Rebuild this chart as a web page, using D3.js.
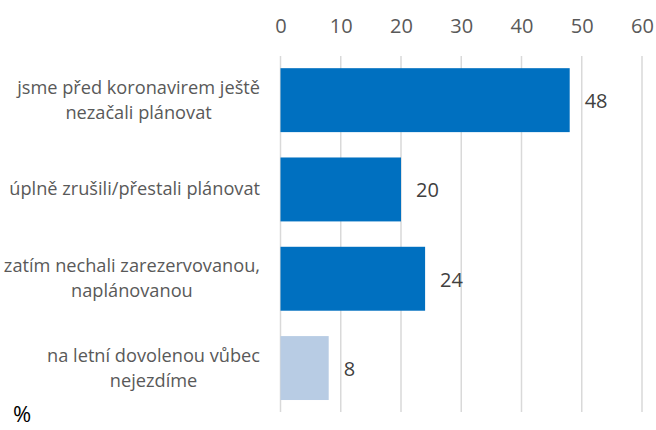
<!DOCTYPE html>
<html>
<head>
<meta charset="utf-8">
<script src="https://cdn.jsdelivr.net/npm/d3@7"></script>
<style>
  body { margin: 0; background: #fff; }
  svg { display: block; font-family: "Open Sans", sans-serif; }
</style>
</head>
<body>
<svg id="chart" width="656" height="430"></svg>
<script>
const categories = [
    ["jsme před koronavirem ještě", "nezačali plánovat"],
    ["úplně zrušili/přestali plánovat"],
    ["zatím nechali zarezervovanou,", "naplánovanou"],
    ["na letní dovolenou vůbec", "nejezdíme"]
];
const values = [48, 20, 24, 8];
const highlight = [true, true, true, false];
const ticks = [0, 10, 20, 30, 40, 50, 60];

const svg = d3.select("#chart");
const x = d3.scaleLinear().domain([0, 60]).range([280.5, 642]);
const y = d3.scaleBand()
    .domain(d3.range(values.length))
    .range([55.5, 412.7])
    .paddingInner(0.284)
    .paddingOuter(0.142);

// gridlines
svg.append("g")
    .selectAll("line")
    .data(ticks)
    .join("line")
    .attr("x1", d => x(d)).attr("x2", d => x(d))
    .attr("y1", 56).attr("y2", 412)
    .attr("stroke", "#d9d9d9")
    .attr("stroke-width", 1.5);

// top axis labels
const axis = d3.axisTop(x).tickValues(ticks).tickSize(0).tickPadding(0);
const ga = svg.append("g").attr("transform", "translate(0,33)").call(axis);
ga.select(".domain").remove();
ga.selectAll("text")
    .attr("font-family", "Open Sans")
    .attr("font-size", 20)
    .attr("fill", "#595959")
    .attr("dy", 0);

// bars
svg.append("g")
    .selectAll("rect")
    .data(values)
    .join("rect")
    .attr("x", x(0))
    .attr("y", (d, i) => y(i))
    .attr("width", d => x(d) - x(0))
    .attr("height", y.bandwidth())
    .attr("fill", (d, i) => highlight[i] ? "#0070c0" : "#b8cce4");

// value labels
svg.append("g")
    .selectAll("text")
    .data(values)
    .join("text")
    .attr("x", d => x(d) + 15)
    .attr("y", (d, i) => y(i) + y.bandwidth() / 2 + 8)
    .attr("font-size", 20)
    .attr("fill", "#404040")
    .text(d => d);

// category labels, centred block with right edge at 260
const lineH = 25;
const gl = svg.append("g");
categories.forEach((lines, i) => {
    const cy = y(i) + y.bandwidth() / 2;
    const t = gl.append("text")
        .attr("font-size", 18.2)
        .attr("fill", "#595959")
        .attr("text-anchor", "middle");
    lines.forEach((ln, j) => {
        t.append("tspan")
            .attr("y", cy + 6 + (j - (lines.length - 1) / 2) * lineH)
            .text(ln);
    });
    let w = 0;
    t.selectAll("tspan").each(function () { w = Math.max(w, this.getComputedTextLength()); });
    t.selectAll("tspan").attr("x", 260 - w / 2);
});

svg.append("text")
    .attr("x", 13)
    .attr("y", 422)
    .attr("font-size", 22)
    .attr("fill", "#000")
    .text("%");
</script>
</body>
</html>
